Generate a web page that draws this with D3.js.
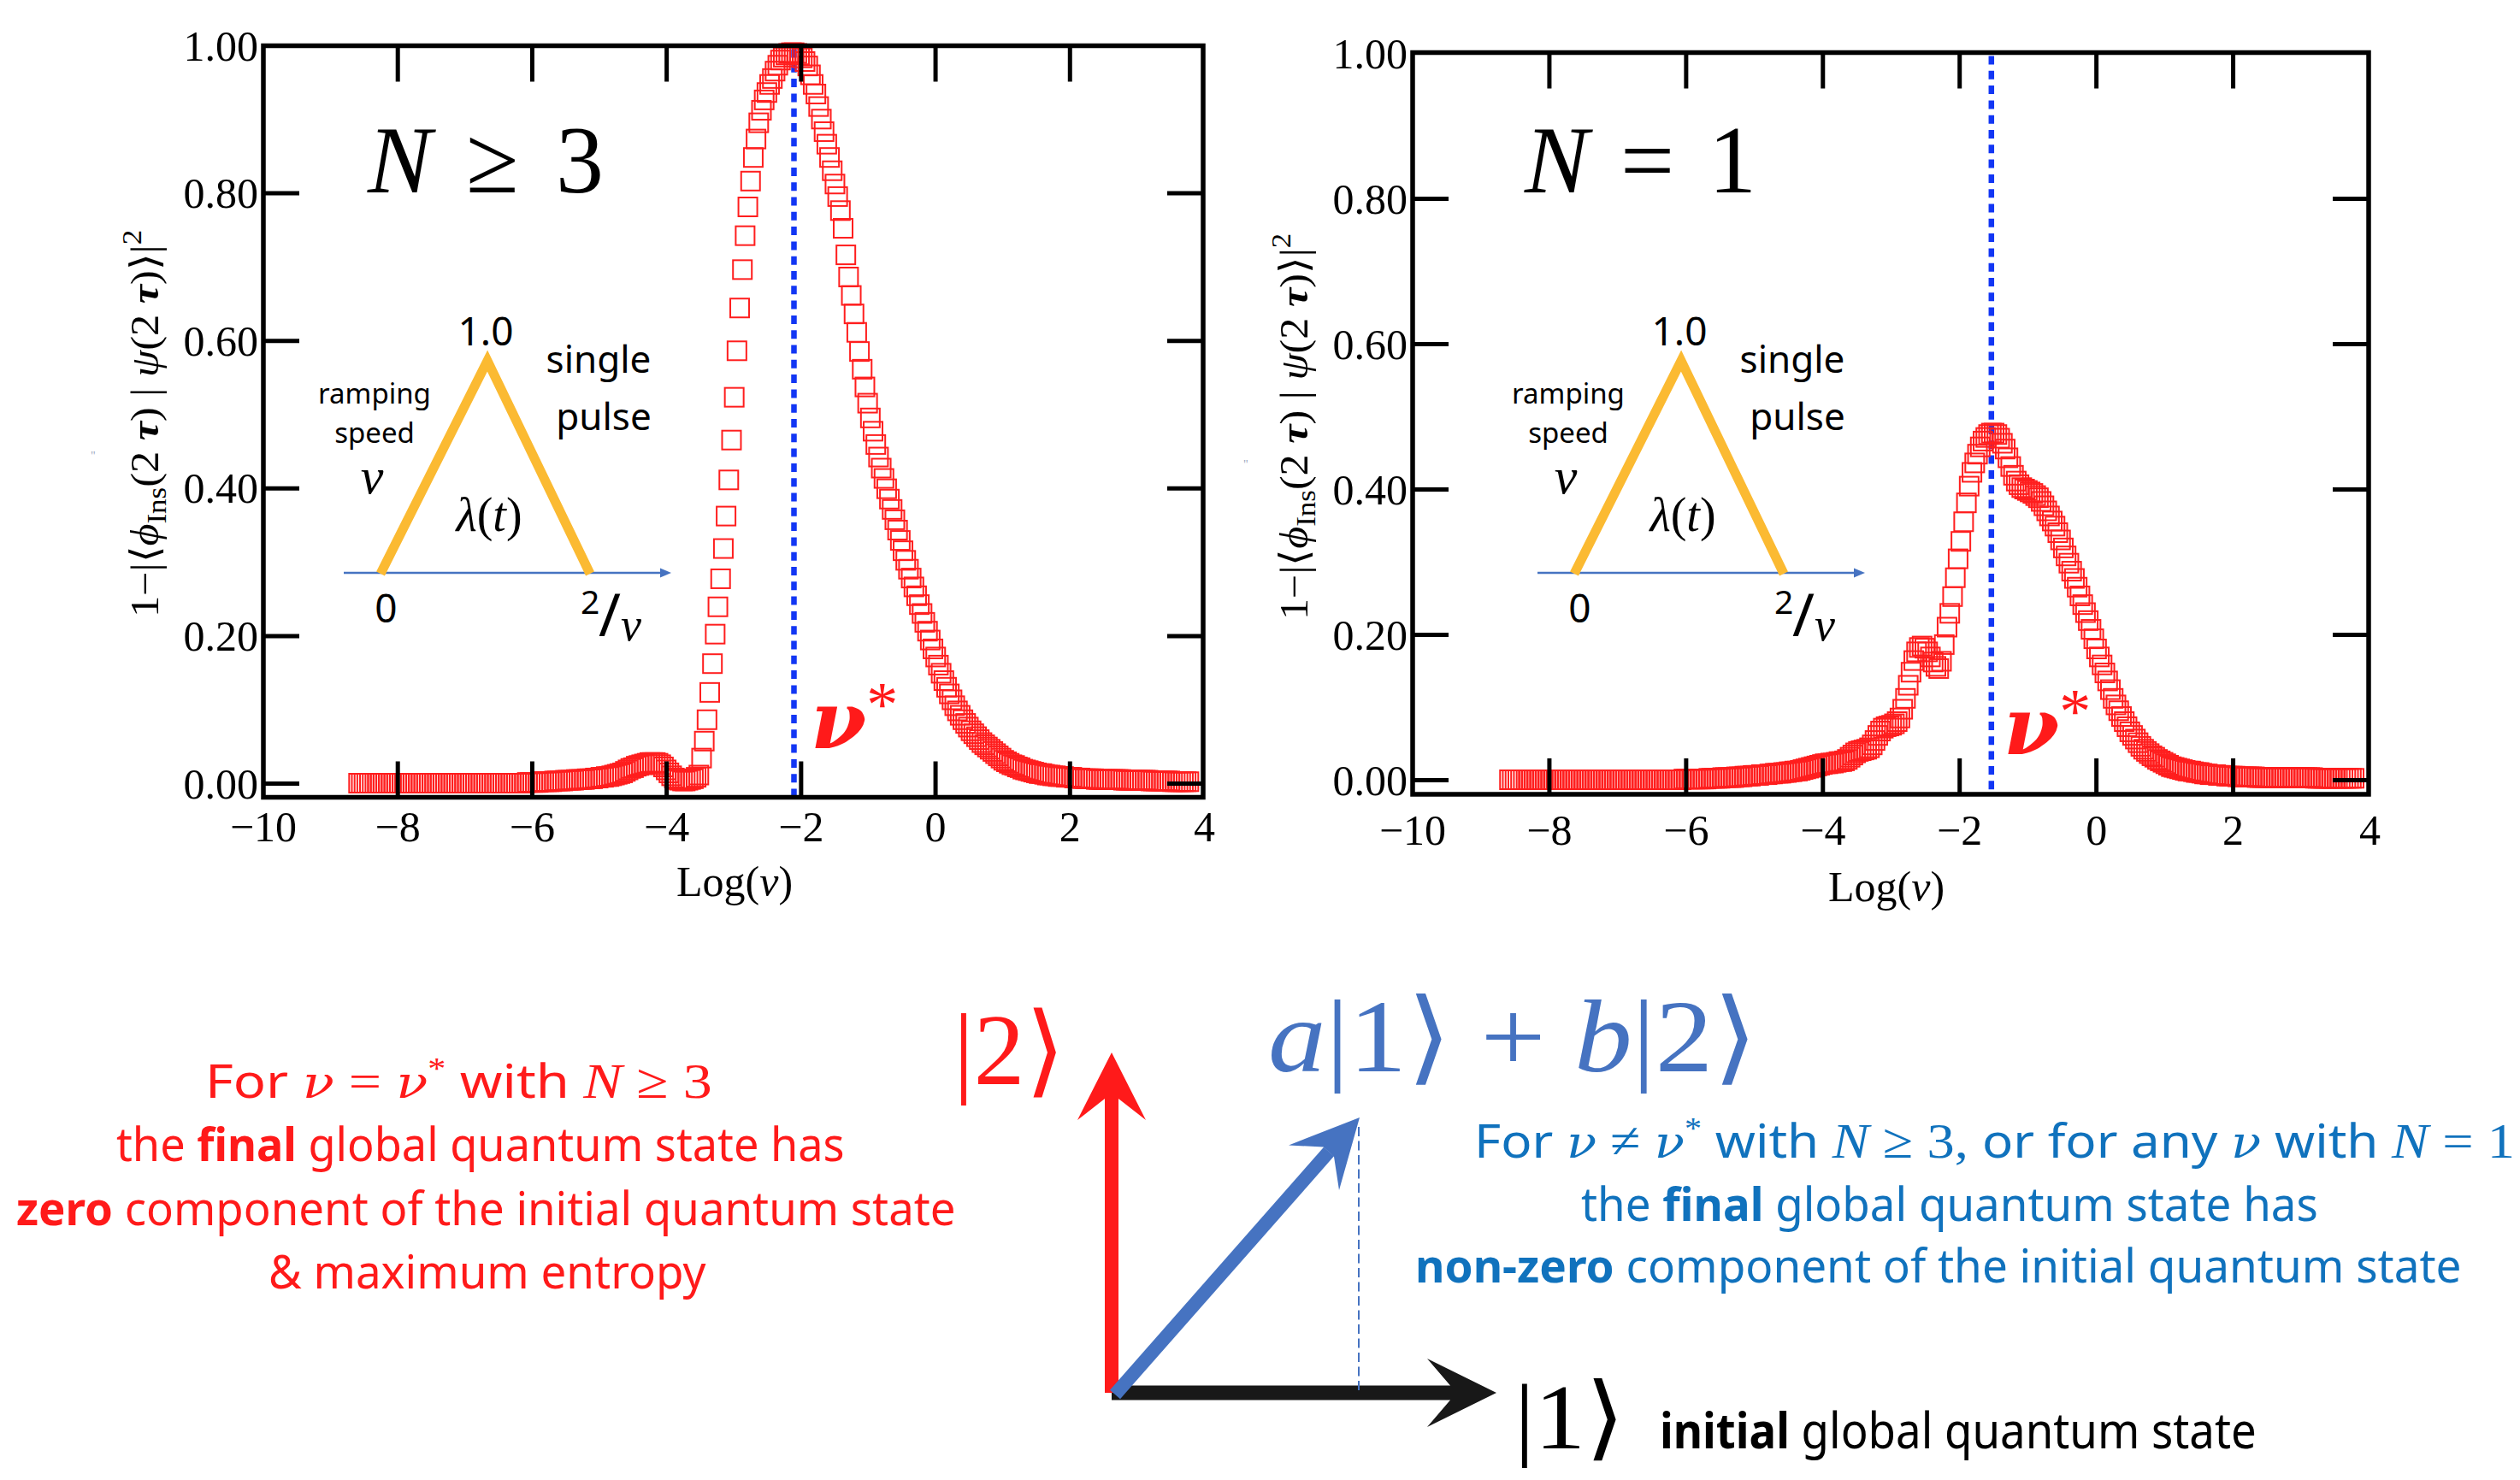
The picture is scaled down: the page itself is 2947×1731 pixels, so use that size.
<!DOCTYPE html>
<html><head><meta charset="utf-8">
<script src="https://cdn.jsdelivr.net/npm/d3@7/dist/d3.min.js"></script>
<style>html,body{margin:0;padding:0;background:#fff}svg{display:block}</style>
</head><body>
<script>
// ---------------- DATA ----------------
// sampling grid of Log(v): first value and spacing
const LOG_NU_START = -8.5775;
const LOG_NU_STEP = 0.0405;
// 1 - |<phi_Ins(2tau)|psi(2tau)>|^2, N >= 3 (left panel)
const fidelityLossN3 = [
0,0,0,0,0,0,0,0,0,0,
0,0,0,0,0,0,0,0,0,0,
0,0,0,0,0,0,0,0,0,0,
0,0,0,0,0,0,0,0,0,0,
0,0,0,0,0,0,0,0,0,0,
0,0,0,0,0,0,0,0,0,0,
0,0,0.001,0.001,0.001,0.001,0.001,0.002,0.002,0.002,
0.002,0.002,0.003,0.003,0.003,0.003,0.004,0.004,0.004,0.004,
0.005,0.005,0.005,0.005,0.006,0.006,0.006,0.007,0.007,0.008,
0.008,0.009,0.009,0.010,0.011,0.012,0.013,0.014,0.016,0.018,
0.020,0.021,0.023,0.024,0.025,0.026,0.027,0.028,0.028,0.028,
0.027,0.025,0.022,0.018,0.014,0.010,0.007,0.005,0.004,0.003,
0.003,0.004,0.005,0.006,0.008,0.011,0.034,0.057,0.086,0.123,
0.162,0.202,0.239,0.277,0.318,0.362,0.411,0.465,0.523,0.586,
0.644,0.696,0.742,0.781,0.816,0.848,0.873,0.895,0.912,0.926,
0.936,0.947,0.955,0.965,0.973,0.980,0.984,0.987,0.989,0.990,
0.990,0.989,0.987,0.983,0.978,0.972,0.960,0.947,0.934,0.917,
0.900,0.883,0.866,0.848,0.830,0.812,0.795,0.776,0.752,0.716,
0.686,0.661,0.636,0.611,0.585,0.561,0.537,0.515,0.495,0.477,
0.459,0.442,0.427,0.413,0.399,0.385,0.371,0.357,0.343,0.329,
0.315,0.302,0.290,0.278,0.266,0.254,0.242,0.230,0.218,0.206,
0.194,0.182,0.171,0.160,0.149,0.139,0.130,0.121,0.113,0.105,
0.098,0.092,0.086,0.081,0.076,0.071,0.067,0.063,0.059,0.055,
0.052,0.049,0.046,0.043,0.040,0.037,0.034,0.031,0.029,0.027,
0.025,0.024,0.022,0.021,0.019,0.018,0.017,0.016,0.015,0.014,
0.013,0.013,0.012,0.011,0.011,0.010,0.010,0.009,0.009,0.009,
0.008,0.008,0.008,0.007,0.007,0.007,0.006,0.006,0.006,0.006,
0.006,0.005,0.005,0.005,0.005,0.005,0.005,0.005,0.005,0.005,
0.005,0.004,0.004,0.004,0.004,0.004,0.004,0.004,0.004,0.004,
0.004,0.003,0.003,0.003,0.003,0.003,0.003,0.003,0.003,0.002,
0.002,0.002,0.002,0.002,0.002,0.002
];
// same quantity, N = 1 (right panel)
const fidelityLossN1 = [
0,0,0,0,0,0,0,0,0,0,
0,0,0,0,0,0,0,0,0,0,
0,0,0,0,0,0,0,0,0,0,
0,0,0,0,0,0,0,0,0,0,
0,0,0,0,0,0,0,0,0,0,
0,0,0,0,0,0,0,0,0,0,
0,0,0,0.001,0.001,0.001,0.001,0.001,0.001,0.001,
0.001,0.001,0.002,0.002,0.002,0.002,0.002,0.003,0.003,0.003,
0.003,0.003,0.004,0.004,0.004,0.005,0.005,0.005,0.006,0.006,
0.006,0.007,0.007,0.007,0.008,0.008,0.009,0.009,0.009,0.010,
0.010,0.011,0.011,0.012,0.012,0.013,0.014,0.015,0.016,0.017,
0.018,0.019,0.020,0.021,0.022,0.022,0.023,0.023,0.024,0.025,
0.025,0.026,0.028,0.031,0.034,0.037,0.039,0.040,0.041,0.042,
0.044,0.048,0.054,0.061,0.067,0.071,0.073,0.074,0.075,0.077,
0.080,0.085,0.097,0.112,0.130,0.148,0.164,0.176,0.182,0.184,
0.181,0.176,0.169,0.162,0.156,0.153,0.163,0.186,0.210,0.229,
0.252,0.278,0.304,0.328,0.355,0.381,0.404,0.423,0.436,0.448,
0.458,0.466,0.471,0.475,0.477,0.477,0.475,0.470,0.463,0.455,
0.443,0.431,0.419,0.411,0.406,0.402,0.400,0.398,0.396,0.394,
0.391,0.388,0.383,0.377,0.370,0.363,0.356,0.349,0.340,0.330,
0.319,0.308,0.298,0.287,0.277,0.265,0.253,0.241,0.230,0.219,
0.207,0.194,0.180,0.169,0.158,0.147,0.136,0.124,0.112,0.103,
0.095,0.087,0.080,0.073,0.066,0.061,0.056,0.051,0.046,0.042,
0.039,0.036,0.033,0.031,0.028,0.026,0.024,0.022,0.020,0.018,
0.017,0.016,0.015,0.014,0.013,0.012,0.012,0.011,0.010,0.010,
0.009,0.008,0.008,0.007,0.007,0.007,0.006,0.006,0.006,0.005,
0.005,0.005,0.005,0.004,0.004,0.004,0.004,0.004,0.004,0.004,
0.003,0.003,0.003,0.003,0.003,0.003,0.003,0.003,0.003,0.003,
0.003,0.003,0.003,0.003,0.003,0.003,0.003,0.003,0.003,0.003,
0.003,0.002,0.002,0.002,0.002,0.002,0.002,0.002,0.002,0.002,
0.002,0.002,0.002,0.002,0.002,0.002
];
const NU_STAR_N3 = -2.10;   // Log(v*) for N >= 3
const NU_STAR_N1 = -1.53;   // Log(v*) for N = 1
const xTickValues = [-10, -8, -6, -4, -2, 0, 2, 4];
const yTickValues = [0, 0.2, 0.4, 0.6, 0.8, 1.0];
const panelLabels = [["N", "≥", "3"], ["N", "=", "1"]];

// ---------------- STYLE ----------------
const SERIF = "'Liberation Serif','Times New Roman',serif";
const NUFONT = "'DejaVu Serif','Liberation Serif',serif";
const SANS = "'Noto Sans','Open Sans',sans-serif";
const RED = "#FF1A1A", SQUARE_RED = "#FF1E1E", DASH_BLUE = "#1236F4";
const ORANGE = "#FBBA32", STEEL = "#4673C1", TXT_BLUE = "#1072BD";

const svg = d3.select("body").append("svg")
  .attr("width", 2947).attr("height", 1731).attr("viewBox", "0 0 2947 1731")
  .style("background", "#fff");

const panels = [
  { values: fidelityLossN3, nuStar: NU_STAR_N3, label: panelLabels[0],
    xRange: [307.5, 1408], yRange: [916, 53], frame: { l: 308, t: 53.5, r: 1407, b: 932.5 },
    labelX: [430, 545, 650], ytitle: { bx: 185, cy: 495.5, L: 453 },
    xlabelY: 984, xtitle: [859, 1048], nu: { x: 948, y: 875, dy: -26 }, insetDx: 0 },
  { values: fidelityLossN1, nuStar: NU_STAR_N1, label: panelLabels[1],
    xRange: [1651.5, 2771], yRange: [912, 62], frame: { l: 1652, t: 61.5, r: 2770, b: 929 },
    labelX: [1783, 1895, 1998], ytitle: { bx: 1529, cy: 499, L: 452 },
    xlabelY: 988, xtitle: [2206, 1054], nu: { x: 2343, y: 882, dy: -25 }, insetDx: 1396 }
];

function styleTicks(sel) {
  sel.select(".domain").remove();
  sel.selectAll(".tick line").attr("stroke", "#000").attr("stroke-width", 5);
}

panels.forEach(p => {
  const x = d3.scaleLinear().domain([-10, 4]).range(p.xRange);
  const y = d3.scaleLinear().domain([0, 1]).range(p.yRange);
  const g = svg.append("g");
  const f = p.frame;

  // dashed v* line
  g.append("line")
    .attr("x1", x(p.nuStar)).attr("x2", x(p.nuStar))
    .attr("y1", f.t + 4).attr("y2", f.b - 2)
    .attr("stroke", DASH_BLUE).attr("stroke-width", 6.5)
    .attr("stroke-dasharray", "10 7.3");

  // data squares
  g.append("g").selectAll("rect").data(p.values).join("rect")
    .attr("x", (d, i) => x(LOG_NU_START + i * LOG_NU_STEP) - 11)
    .attr("y", d => y(d) - 11)
    .attr("width", 22).attr("height", 22)
    .attr("fill", "none").attr("stroke", SQUARE_RED).attr("stroke-width", 2);

  // inner ticks
  const innerX = xTickValues.filter(t => t > -10 && t < 4);
  const innerY = yTickValues.filter(t => t < 1);
  g.append("g").attr("transform", `translate(0,${f.t})`)
    .call(d3.axisBottom(x).tickValues(innerX).tickSize(42).tickFormat("")).call(styleTicks);
  g.append("g").attr("transform", `translate(0,${f.b})`)
    .call(d3.axisTop(x).tickValues(innerX).tickSize(42).tickFormat("")).call(styleTicks);
  g.append("g").attr("transform", `translate(${f.l},0)`)
    .call(d3.axisRight(y).tickValues(innerY).tickSize(42).tickFormat("")).call(styleTicks);
  g.append("g").attr("transform", `translate(${f.r},0)`)
    .call(d3.axisLeft(y).tickValues(innerY).tickSize(42).tickFormat("")).call(styleTicks);

  // frame
  g.append("rect").attr("x", f.l).attr("y", f.t).attr("width", f.r - f.l).attr("height", f.b - f.t)
    .attr("fill", "none").attr("stroke", "#000").attr("stroke-width", 5.5);

  // tick labels
  const xl = g.append("g").attr("transform", `translate(0,${p.xlabelY})`)
    .call(d3.axisBottom(x).tickValues(xTickValues).tickSize(0).tickFormat(d3.format("d")));
  xl.select(".domain").remove();
  xl.selectAll("text").attr("y", 0).attr("dy", 0)
    .attr("font-family", SERIF).attr("font-size", 50).attr("fill", "#000");
  const yl = g.append("g").attr("transform", `translate(${f.l - 6},0)`)
    .call(d3.axisLeft(y).tickValues(yTickValues).tickSize(0).tickPadding(0).tickFormat(d3.format(".2f")));
  yl.select(".domain").remove();
  yl.selectAll("text").attr("x", 0).attr("dy", "0.34em")
    .attr("font-family", SERIF).attr("font-size", 50).attr("fill", "#000");

  // x title
  const xt = g.append("text").attr("x", p.xtitle[0]).attr("y", p.xtitle[1])
    .attr("text-anchor", "middle").attr("font-family", SERIF).attr("font-size", 50);
  xt.append("tspan").text("Log(");
  xt.append("tspan").attr("font-style", "italic").text("ν");
  xt.append("tspan").text(")");

  // y title (rotated)
  const yt = g.append("text").attr("x", 0).attr("y", 0)
    .attr("font-family", SERIF).attr("font-size", 46).attr("fill", "#000");
  const seg = (t, o = {}) => {
    const s = yt.append("tspan").text(t);
    Object.entries(o).forEach(([k, v]) => s.attr(k, v));
    return s;
  };
  seg("1−|⟨"); seg("ϕ", { "font-style": "italic" });
  seg("Ins", { "font-size": 32, dy: 9 }); seg("(2 ", { dy: -9 });
  seg("τ", { "font-style": "italic", "font-weight": "bold" }); seg(") | ");
  seg("ψ", { "font-style": "italic" }); seg("(2 ");
  seg("τ", { "font-style": "italic", "font-weight": "bold" }); seg(")⟩|");
  seg("2", { "font-size": 32, dy: -20 });
  const yb = yt.node().getBBox();
  yt.attr("transform",
    `translate(${p.ytitle.bx},${p.ytitle.cy + p.ytitle.L / 2}) rotate(-90) scale(${p.ytitle.L / yb.width},1) translate(${-yb.x},0)`);

  // panel label N ...
  p.label.forEach((t, i) => {
    g.append("text").attr("x", p.labelX[i]).attr("y", 225)
      .attr("font-family", SERIF).attr("font-size", 112)
      .attr("font-style", i === 0 ? "italic" : "normal").text(t);
  });

  // v* label (one text, star follows as superscript)
  const nuT = g.append("text").attr("x", p.nu.x).attr("y", p.nu.y).attr("fill", RED);
  nuT.append("tspan").attr("font-family", NUFONT).attr("font-size", 94)
    .attr("font-style", "italic").attr("font-weight", "bold").text("ν");
  nuT.append("tspan").attr("dy", p.nu.dy)
    .attr("font-family", SERIF).attr("font-size", 74).text("*");

  // inset pulse sketch
  const d = p.insetDx;
  const ins = g.append("g").attr("transform", `translate(${d},0)`);
  ins.append("line").attr("x1", 402).attr("x2", 774).attr("y1", 670).attr("y2", 670)
    .attr("stroke", STEEL).attr("stroke-width", 2.5);
  ins.append("path").attr("d", "M772,664.5 L785,670 L772,675.5 Z").attr("fill", STEEL);
  ins.append("path").attr("d", "M445,671 L570,422 L690,671")
    .attr("fill", "none").attr("stroke", ORANGE).attr("stroke-width", 11)
    .attr("stroke-linejoin", "miter").attr("stroke-miterlimit", 10);
  const it = (x, y, t, fam, size, o = {}) => {
    const e = ins.append("text").attr("x", x).attr("y", y).attr("text-anchor", "middle")
      .attr("font-family", fam).attr("font-size", size).attr("fill", "#000").text(t);
    Object.entries(o).forEach(([k, v]) => e.attr(k, v));
    return e;
  };
  it(568, 404, "1.0", SANS, 46);
  it(438, 472, "ramping", SANS, 33);
  it(438, 518, "speed", SANS, 33);
  it(435, 577, "v", SERIF, 60, { "font-style": "italic" });
  it(700, 436, "single", SANS, 44);
  it(706, 503, "pulse", SANS, 44);
  const lam = ins.append("text").attr("x", 572).attr("y", 621).attr("text-anchor", "middle")
    .attr("font-family", SERIF).attr("font-size", 56);
  lam.append("tspan").attr("font-style", "italic").text("λ");
  lam.append("tspan").text("(");
  lam.append("tspan").attr("font-style", "italic").text("t");
  lam.append("tspan").text(")");
  it(451.5, 728, "0", SANS, 46);
  // 2/v written as one fraction-like text
  const frac = ins.append("text").attr("x", 679).attr("y", 718).attr("fill", "#000");
  frac.append("tspan").attr("font-family", SANS).attr("font-size", 39).text("2");
  frac.append("tspan").attr("x", 700).attr("y", 744).attr("font-family", SANS).attr("font-size", 70).text("/");
  frac.append("tspan").attr("x", 726).attr("y", 749).attr("font-family", SERIF).attr("font-size", 54)
    .attr("font-style", "italic").text("v");
});

// tiny stray marks in the original figure
svg.append("text").attr("x", 106).attr("y", 538).attr("font-size", 14).attr("fill", "#9aa6bd").text("\"");
svg.append("text").attr("x", 1454).attr("y", 548).attr("font-size", 14).attr("fill", "#9aa6bd").text("\"");

// ---------------- VECTOR DIAGRAM ----------------
const dg = svg.append("g");
// black |1> arrow
dg.append("line").attr("x1", 1300).attr("y1", 1629).attr("x2", 1697).attr("y2", 1629)
  .attr("stroke", "#181818").attr("stroke-width", 17);
dg.append("path").attr("d", "M1750,1629 L1669,1589 L1696,1620.5 L1696,1637.5 L1669,1669 Z").attr("fill", "#181818");
// red |2> arrow
dg.append("line").attr("x1", 1300).attr("y1", 1629).attr("x2", 1300).attr("y2", 1284)
  .attr("stroke", RED).attr("stroke-width", 16);
dg.append("path").attr("d", "M1300,1231 L1340,1310 L1308,1285 L1292,1285 L1260,1310 Z").attr("fill", RED);
// projection guide
dg.append("line").attr("x1", 1589).attr("x2", 1589).attr("y1", 1318).attr("y2", 1627)
  .attr("stroke", STEEL).attr("stroke-width", 2).attr("stroke-dasharray", "11 5.5");
// blue superposition arrow
dg.append("line").attr("x1", 1304).attr("y1", 1631).attr("x2", 1554).attr("y2", 1347)
  .attr("stroke", STEEL).attr("stroke-width", 16);
dg.append("path").attr("d", "M1590,1307 L1566,1392 L1560,1352.7 L1547.6,1341.6 L1507,1339.4 Z").attr("fill", STEEL);

// text helper: segments fitted horizontally into [x0,x1]
function fitLine(parent, line, color, sansSize, mathSize) {
  const t = parent.append("text").attr("x", 0).attr("y", line.y).attr("fill", color);
  let shifted = 0;
  line.segs.forEach(([txt, kind]) => {
    const s = t.append("tspan").text(txt);
    if (kind === "s" || kind === "sb") {
      s.attr("font-family", SANS).attr("font-size", sansSize);
      if (kind === "sb") s.attr("font-weight", "bold");
    } else if (kind === "nu") {
      s.attr("font-family", NUFONT).attr("font-size", mathSize * 0.9).attr("font-style", "italic");
    } else {
      s.attr("font-family", SERIF).attr("font-size", mathSize);
      if (kind === "mi") s.attr("font-style", "italic");
    }
    if (kind === "sup") { s.attr("font-size", mathSize * 0.62).attr("dy", -mathSize * 0.38); shifted = mathSize * 0.38; }
    else if (shifted) { s.attr("dy", shifted); shifted = 0; }
  });
  const b = t.node().getBBox();
  t.attr("transform", `translate(${line.x0},0) scale(${(line.x1 - line.x0) / b.width},1) translate(${-b.x},0)`);
  return t;
}

const redLines = [
  { x0: 240, x1: 833, y: 1284, segs: [["For  ", "s"], ["ν", "nu"], [" = ", "m"], ["ν", "nu"], ["*", "sup"], [" with  ", "s"], ["N", "mi"], [" ≥ 3", "m"]] },
  { x0: 136, x1: 988, y: 1358, segs: [["the ", "s"], ["final", "sb"], [" global quantum state has", "s"]] },
  { x0: 19, x1: 1118, y: 1433, segs: [["zero", "sb"], [" component of the initial quantum state", "s"]] },
  { x0: 314, x1: 826, y: 1507, segs: [["& maximum entropy", "s"]] }
];
const blueLines = [
  { x0: 1724, x1: 2941, y: 1354, segs: [["For  ", "s"], ["ν", "nu"], [" ≠ ", "m"], ["ν", "nu"], ["*", "sup"], [" with  ", "s"], ["N", "mi"], [" ≥ 3, ", "m"], [" or for any ", "s"], ["ν", "nu"], [" with ", "s"], ["N", "mi"], [" = 1", "m"]] },
  { x0: 1849, x1: 2711, y: 1428, segs: [["the ", "s"], ["final", "sb"], [" global quantum state has", "s"]] },
  { x0: 1655, x1: 2879, y: 1500, segs: [["non-zero", "sb"], [" component of the initial quantum state", "s"]] }
];
redLines.forEach(l => fitLine(dg, l, RED, 54, 58));
blueLines.forEach(l => fitLine(dg, l, TXT_BLUE, 54, 58));

// kets
fitLine(dg, { x0: 1115, x1: 1245, y: 1268, segs: [["|2", "m"], ["⟩", "m"]] }, RED, 118, 118);
const ab = dg.append("text").attr("y", 1253).attr("fill", STEEL).attr("font-family", SERIF).attr("font-size", 120);
ab.append("tspan").attr("font-style", "italic").text("a");
ab.append("tspan").text("|1⟩ + ");
ab.append("tspan").attr("font-style", "italic").text("b");
ab.append("tspan").text("|2⟩");
{ const b = ab.node().getBBox(); ab.attr("transform", `translate(1483,0) scale(${573 / b.width},1) translate(${-b.x},0)`); }
fitLine(dg, { x0: 1771, x1: 1900, y: 1694, segs: [["|1⟩", "m"]] }, "#000", 108, 108);
fitLine(dg, { x0: 1941, x1: 2639, y: 1694, segs: [["initial", "sb"], [" global quantum state", "s"]] }, "#000", 58, 58);
</script>
</body></html>
